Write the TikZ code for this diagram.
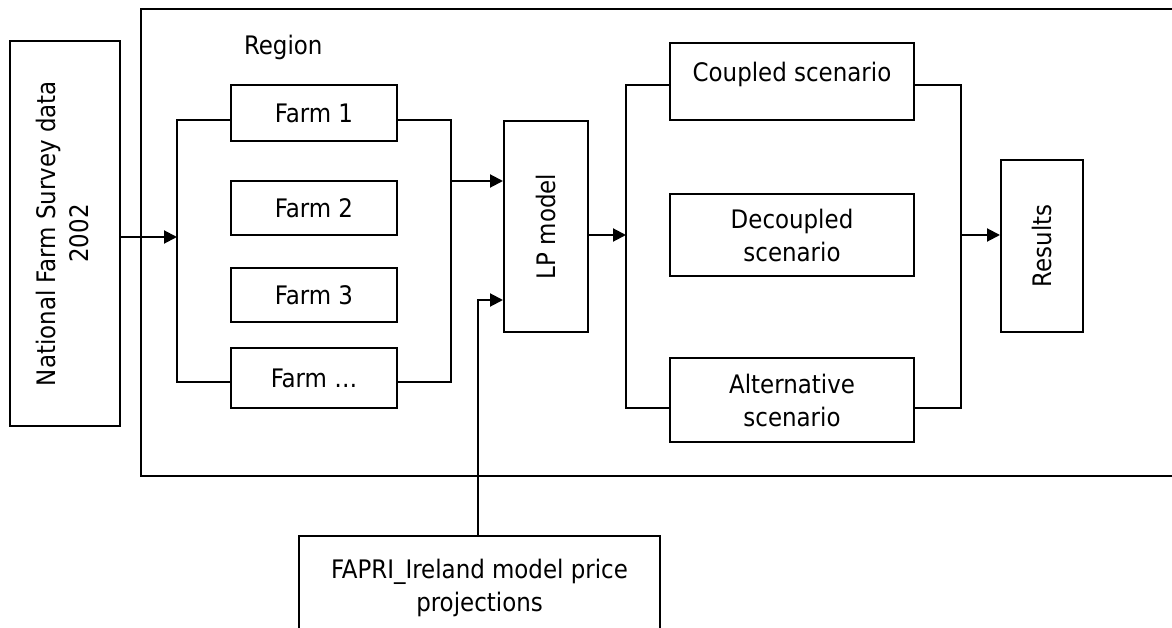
\documentclass[tikz,border=0pt]{standalone}
\usepackage{fontspec}
\setmainfont{DejaVu Sans Condensed}
\usetikzlibrary{arrows.meta}

\begin{document}
\begin{tikzpicture}[x=1pt, y=-1pt, line width=2pt,
    box/.style={draw, inner sep=0pt, align=center, minimum width=#1},
    box/.default=166pt,
    arr/.style={-{Triangle[length=13pt,width=13pt]}},
    every node/.style={font=\fontsize{25.5}{33}\selectfont}]
  \useasboundingbox (0,0) rectangle (1172,628);

  % region frame, runs off the right edge
  \draw (141,9) rectangle (1200,476);
  \node[anchor=west, inner sep=0pt] (reg) at (243,47) {Region};

  \node[box=110pt, minimum height=385pt] (nfs) at (65,233.5)
    {\rotatebox{90}{\begin{tabular}{@{}c@{}}National Farm Survey data\\2002\end{tabular}}};

  \node[box, minimum height=56pt] (f1) at (314,113) {Farm 1};
  \node[box, minimum height=54pt] (f2) at (314,208) {Farm 2};
  \node[box, minimum height=54pt] (f3) at (314,295) {Farm 3};
  \node[box, minimum height=60pt] (fd) at (314,378) {Farm \ldots};

  \node[box=84pt, minimum height=211pt] (lp) at (546,226.5) {\rotatebox{90}{LP model}};

  \node[box=244pt, minimum height=77pt] (cs) at (792,81.5) {Coupled scenario\\[-14pt]~};
  \node[box=244pt, minimum height=82pt] (ds) at (792,235) {Decoupled\\scenario};
  \node[box=244pt, minimum height=84pt] (alt) at (792,400) {Alternative\\scenario};

  \node[box=82pt, minimum height=172pt] (res) at (1042,246) {\rotatebox{90}{Results}};

  \node[box=361pt, minimum height=103pt] (fapri) at (479.5,587.5)
    {FAPRI\_Ireland model price\\projections};

  % farms in
  \coordinate (lbt) at (177,120);
  \coordinate (lbb) at (177,382);
  \coordinate (lbin) at (177,237);
  \draw (f1.west |- lbt) -- (lbt) -- (lbb) -- (fd.west |- lbb);
  \draw[arr] (nfs.east |- lbin) -- (lbin);

  % farms out
  \coordinate (rbt) at (451,120);
  \coordinate (rbb) at (451,382);
  \coordinate (rbout) at (451,181);
  \draw (f1.east |- rbt) -- (rbt) -- (rbb) -- (fd.east |- rbb);
  \draw[arr] (rbout) -- (lp.west |- rbout);

  % prices
  \coordinate (pin) at (478,300);
  \draw[arr] (fapri.north -| pin) -- (pin) -- (lp.west |- pin);

  % scenarios
  \coordinate (sbt) at (626,85);
  \coordinate (sbb) at (626,408);
  \coordinate (sbin) at (626,235);
  \draw[arr] (lp.east |- sbin) -- (sbin);
  \draw (cs.west |- sbt) -- (sbt) -- (sbb) -- (alt.west |- sbb);

  \coordinate (obt) at (961,85);
  \coordinate (obb) at (961,408);
  \coordinate (obout) at (961,235);
  \draw (cs.east |- obt) -- (obt) -- (obb) -- (alt.east |- obb);
  \draw[arr] (obout) -- (res.west |- obout);
\end{tikzpicture}
\end{document}
